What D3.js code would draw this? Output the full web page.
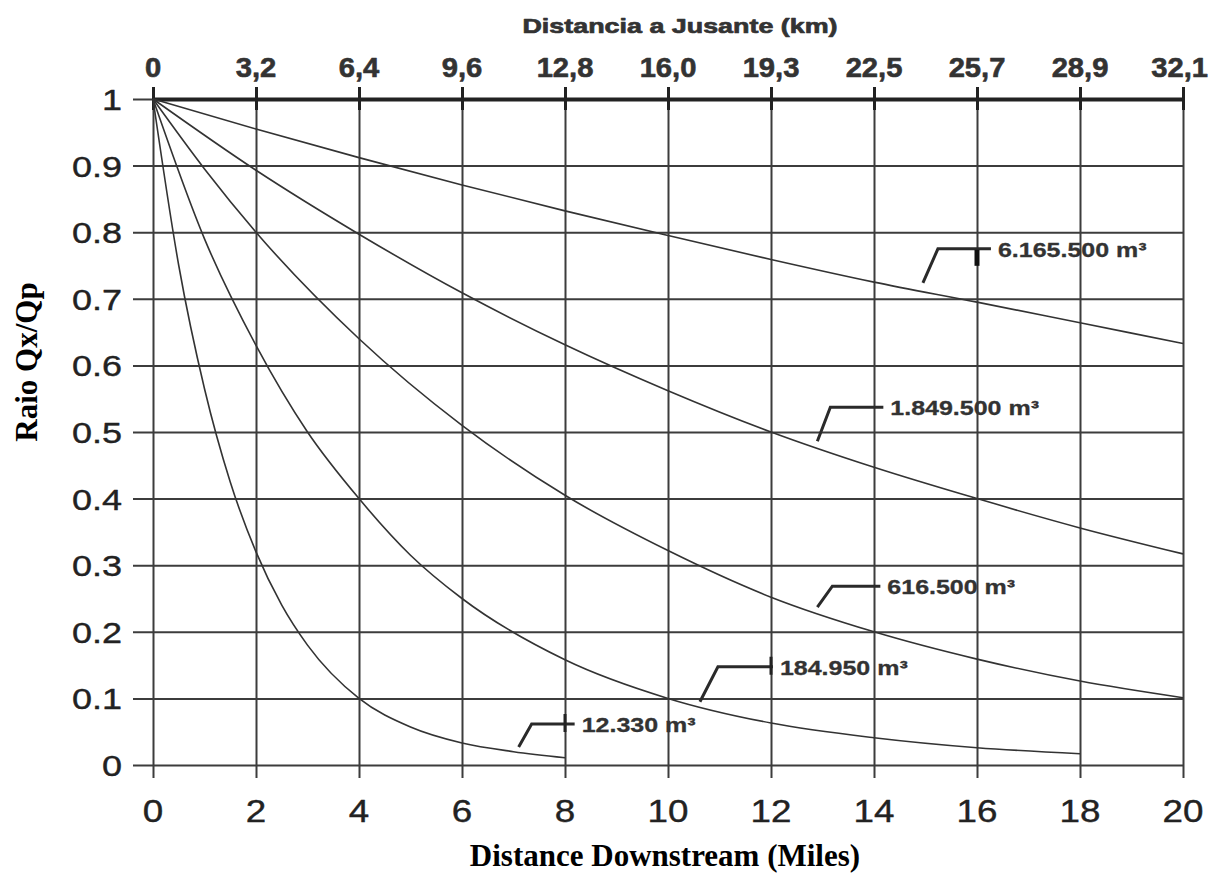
<!DOCTYPE html>
<html>
<head>
<meta charset="utf-8">
<script src="https://cdn.jsdelivr.net/npm/d3@7"></script>
<style>
  html, body { margin: 0; padding: 0; background: #fff; }
  svg { display: block; }
</style>
</head>
<body>
<svg id="chart" width="1210" height="880"></svg>
<script>
// Distance downstream in miles (bottom axis) with matching km labels (top axis)
const mileTicks = [0, 2, 4, 6, 8, 10, 12, 14, 16, 18, 20];
const mileLabels = ["0", "2", "4", "6", "8", "10", "12", "14", "16", "18", "20"];
const kmLabels = ["0", "3,2", "6,4", "9,6", "12,8", "16,0", "19,3", "22,5", "25,7", "28,9", "32,1"];

// Ratio Qx/Qp ticks
const ratioTicks = [0, 0.1, 0.2, 0.3, 0.4, 0.5, 0.6, 0.7, 0.8, 0.9, 1];
const ratioLabels = ["0", "0.1", "0.2", "0.3", "0.4", "0.5", "0.6", "0.7", "0.8", "0.9", "1"];

// Attenuation curves, one per stored volume
const volumeNames = ["6.165.500 m³", "1.849.500 m³", "616.500 m³", "184.950 m³", "12.330 m³"];

const milesA = [0, 2, 4, 6, 8, 10, 12, 14, 16, 18, 20];
const ratioA = [1, 0.955, 0.912, 0.871, 0.832, 0.795, 0.759, 0.725, 0.695, 0.664, 0.633];

const milesB = [0, 2, 4, 6, 8, 10, 12, 14, 16, 18, 20];
const ratioB = [1, 0.893, 0.797, 0.709, 0.631, 0.562, 0.500, 0.447, 0.400, 0.356, 0.317];

const milesC = [0, 1, 2, 4, 6, 8, 10, 12, 14, 16, 18, 20];
const ratioC = [1, 0.895, 0.800, 0.640, 0.510, 0.405, 0.322, 0.252, 0.200, 0.159, 0.126, 0.101];

const milesD = [0, 1, 2, 3, 4, 5, 6, 8, 10, 12, 14, 16, 18];
const ratioD = [1, 0.790, 0.630, 0.500, 0.400, 0.315, 0.250, 0.158, 0.100, 0.063, 0.041, 0.026, 0.017];

const milesE = [0, 0.5, 1, 1.5, 2, 2.5, 3, 4, 5, 6, 7, 8];
const ratioE = [1, 0.750, 0.565, 0.425, 0.320, 0.240, 0.180, 0.100, 0.057, 0.033, 0.020, 0.011];

const seriesMiles = [milesA, milesB, milesC, milesD, milesE];
const seriesRatio = [ratioA, ratioB, ratioC, ratioD, ratioE];

// Where each volume label's leader line touches down (data units)
const labelAtMiles = [14.95, 12.9, 12.9, 10.62, 7.1];
const labelAtRatio = [0.724, 0.486, 0.237, 0.095, 0.027];
// Grid column crossed by each leader (marked with a short stub), null where none
const leaderStubMiles = [16, null, null, 12, 8];

// ---- layout ----
const W = 1210;
const svg = d3.select("#chart");
const x = d3.scaleLinear().domain([0, 20]).range([153, 1183]);
const y = d3.scaleLinear().domain([0, 1]).range([765, 99]);

const ink = "#2b2b2b";
const gridInk = "#3c3c3c";
const sans = "'Liberation Sans', Arial, Helvetica, sans-serif";
const serif = "'Liberation Serif', 'Times New Roman', serif";

// Horizontally stretched text helper
function label(g, str, px, py, opts) {
  const sx = opts.sx || 1;
  const t = g.append("text")
    .attr("transform", `translate(${px},${py}) scale(${sx},1)`)
    .attr("text-anchor", opts.anchor || "start")
    .attr("font-family", opts.family || sans)
    .attr("font-size", opts.size)
    .attr("font-weight", opts.weight || "normal")
    .attr("fill", opts.fill || ink)
    .text(str);
  if (opts.heavy) {
    t.attr("stroke", opts.fill || ink).attr("stroke-width", opts.heavy).attr("stroke-linejoin", "round");
  }
  // keep the label inside the page on the right
  const b = t.node().getBoundingClientRect();
  if (b.right > W - 2) {
    t.attr("transform", `translate(${px - (b.right - (W - 2))},${py}) scale(${sx},1)`);
  }
  return t;
}

// ---- grid ----
const grid = svg.append("g");
// vertical grid lines, running past the zero line as bottom ticks
grid.append("g")
  .attr("transform", `translate(0,${y(0)})`)
  .call(d3.axisBottom(x).tickValues(mileTicks).tickSize(13).tickFormat(""))
  .call(g => g.select(".domain").remove())
  .call(g => g.selectAll(".tick line").attr("y1", y(1) - y(0))
    .attr("stroke", gridInk).attr("stroke-width", 2));

// horizontal grid lines, running past the zero mile line as left ticks
grid.append("g")
  .attr("transform", `translate(${x(0)},0)`)
  .call(d3.axisLeft(y).tickValues(ratioTicks).tickSize(20).tickFormat(""))
  .call(g => g.select(".domain").remove())
  .call(g => g.selectAll(".tick line").attr("x1", x(20) - x(0))
    .attr("stroke", gridInk).attr("stroke-width", 2));

// ---- top (km) axis ----
const kmAxis = svg.append("g").attr("transform", `translate(0,${y(1)})`);
kmAxis.call(d3.axisTop(x).tickValues(mileTicks).tickSize(12).tickSizeOuter(0).tickFormat(""))
  .call(g => g.select(".domain").attr("stroke", "#222").attr("stroke-width", 4))
  .call(g => g.selectAll(".tick line").attr("y2", -12).attr("y1", 11)
    .attr("stroke", "#222").attr("stroke-width", 3));

mileTicks.forEach((m, i) => {
  label(svg, kmLabels[i], x(m), 77, { anchor: "middle", size: 27, weight: "bold", sx: 1.08, fill: "#333", heavy: 0.6 });
});
label(svg, "Distancia a Jusante (km)", 680, 33, { anchor: "middle", size: 21, weight: "bold", sx: 1.28, fill: "#333", heavy: 0.7 });

// ---- bottom (miles) tick labels ----
mileTicks.forEach((m, i) => {
  label(svg, mileLabels[i], x(m), 822, { anchor: "middle", size: 32, sx: 1.15, fill: "#222", heavy: 0.4 });
});

// ---- left ratio tick labels ----
ratioTicks.forEach((r, i) => {
  label(svg, ratioLabels[i], 122, y(r) + 11, { anchor: "end", size: 30, sx: 1.2, fill: "#222", heavy: 0.4 });
});

// ---- axis titles ----
svg.append("text")
  .attr("transform", `translate(37,362) rotate(-90)`)
  .attr("text-anchor", "middle")
  .attr("font-family", serif).attr("font-size", 31).attr("font-weight", "bold")
  .attr("fill", "#000")
  .text("Raio Qx/Qp");
svg.append("text")
  .attr("x", 665).attr("y", 866)
  .attr("text-anchor", "middle")
  .attr("font-family", serif).attr("font-size", 31).attr("font-weight", "bold")
  .attr("fill", "#000")
  .text("Distance Downstream (Miles)");

// ---- curves ----
const line = d3.line()
  .x(d => x(d[0]))
  .y(d => y(d[1]))
  .curve(d3.curveMonotoneX);

const curves = svg.append("g");
seriesMiles.forEach((ms, i) => {
  const pts = ms.map((m, j) => [m, seriesRatio[i][j]]);
  curves.append("path")
    .attr("d", line(pts))
    .attr("fill", "none")
    .attr("stroke", "#333")
    .attr("stroke-width", 1.6);
});

// ---- volume labels with elbow leaders ----
const leaderRise = [34, 34, 21, 35, 23];
const leaderRun = [15, 13, 15, 18, 13];
const leaderFlat = [53, 53, 48, 55, 43];
const notes = svg.append("g");
volumeNames.forEach((name, i) => {
  const px = x(labelAtMiles[i]), py = y(labelAtRatio[i]);
  const ex = px + leaderRun[i], ey = py - leaderRise[i];
  const hx = ex + leaderFlat[i];
  notes.append("path")
    .attr("d", `M${px},${py}L${ex},${ey}L${hx},${ey}`)
    .attr("fill", "none").attr("stroke", "#2a2a2a").attr("stroke-width", 3);
  const stub = leaderStubMiles[i];
  if (stub !== null) {
    const sxp = x(stub);
    if (i === 0) {
      notes.append("line").attr("x1", sxp).attr("x2", sxp)
        .attr("y1", ey + 1).attr("y2", ey + 17)
        .attr("stroke", "#111").attr("stroke-width", 5);
    } else {
      notes.append("line").attr("x1", sxp).attr("x2", sxp)
        .attr("y1", ey - 10).attr("y2", ey + 8)
        .attr("stroke", "#222").attr("stroke-width", 3);
    }
  }
  label(notes, name, hx + 7, ey + 8, { size: 20, weight: "bold", sx: 1.25, fill: "#333", heavy: 0.3 });
});
</script>
</body>
</html>
